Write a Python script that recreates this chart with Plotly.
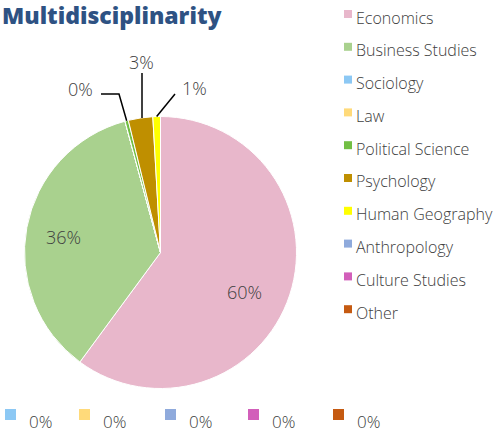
import math
import plotly.graph_objects as go

# ---- data ----
categories = ["Economics", "Business Studies", "Sociology", "Law", "Political Science",
              "Psychology", "Human Geography", "Anthropology", "Culture Studies", "Other"]
shares = [60.1, 35.7, 0.0, 0.0, 0.4, 2.9, 0.9, 0.0, 0.0, 0.0]
colors = ["#E8B7CB", "#A9D18E", "#8CC8F4", "#FFDA7A", "#72BF44",
          "#BF8F00", "#FFFF00", "#8FAADC", "#D25FBA", "#C55A11"]
title_text = "Multidisciplinarity"

# ---- layout constants (pixels) ----
W, H = 504, 433
CX, CY, R = 160.5, 252.5, 136.0
FONT = "Open Sans"
TXT = "#404040"


def px(x):
    return x / W


def py(y):
    return 1 - y / H


def pct(v):
    return f"{round(v)}%"


fig = go.Figure()
fig.add_trace(go.Pie(
    labels=categories, values=shares, sort=False, direction="clockwise", rotation=0,
    marker=dict(colors=colors, line=dict(color="white", width=1)),
    textinfo="none", hoverinfo="label+percent", showlegend=False,
    domain=dict(x=[px(CX - R), px(CX + R)], y=[py(CY + R), py(CY - R)]),
))

total = sum(shares)
cum = 0.0
mids = []
for v in shares:
    mids.append((cum + v / 2) / total * 2 * math.pi)
    cum += v


def pt(theta, rr):
    return CX + rr * math.sin(theta), CY - rr * math.cos(theta)


annotations = []
shapes = []


def add_text(x, y, text, size=16, xanchor="center"):
    annotations.append(dict(x=px(x), y=py(y), xref="paper", yref="paper", text=text,
                            showarrow=False, xanchor=xanchor, yanchor="middle",
                            font=dict(family=FONT, size=size, color=TXT, weight=300)))


def add_path(points):
    d = "M " + " L ".join(f"{px(x)},{py(y)}" for x, y in points)
    shapes.append(dict(type="path", path=d, xref="paper", yref="paper",
                       line=dict(color="black", width=1.5)))


# inside labels for big slices
for i in (0, 1):
    x, y = pt(mids[i] + (0.12 if i == 0 else -0.03), R * (0.68 if i == 0 else 0.72))
    add_text(x, y, pct(shares[i]), size=18)

# outside labels for small slices with leader lines
i_pol, i_psy, i_geo = 4, 5, 6
ex, ey = pt(mids[i_pol], R)
add_path([(ex, ey), (119, 94), (101, 94)])
add_text(80, 89, pct(shares[i_pol]), size=18)

ex, ey = pt(mids[i_psy], R)
add_path([(142, ey), (142, 73)])
add_text(141, 62, pct(shares[i_psy]), size=18)

ex, ey = pt(mids[i_geo], R)
add_path([(ex, ey), (175, 94)])
add_text(194, 88, pct(shares[i_geo]), size=18)

# right-hand legend
LEG_X, LEG_Y0, LEG_DY = 344, 17.5, 32.8
for i, (c, col) in enumerate(zip(categories, colors)):
    yc = LEG_Y0 + LEG_DY * i
    shapes.append(dict(type="rect", xref="paper", yref="paper",
                       x0=px(LEG_X), x1=px(LEG_X + 8), y0=py(yc - 7.5), y1=py(yc + 0.5),
                       fillcolor=col, line=dict(width=0)))
    add_text(LEG_X + 10, yc, c, size=16, xanchor="left")

# bottom row: zero-value labels with keys
BOTTOM_X = [5, 79, 165, 248, 333]
zero_idx = [i for i in (2, 3, 7, 8, 9)]
for bx, i in zip(BOTTOM_X, zero_idx):
    shapes.append(dict(type="rect", xref="paper", yref="paper",
                       x0=px(bx), x1=px(bx + 11), y0=py(420), y1=py(409),
                       fillcolor=colors[i], line=dict(width=0)))
    add_text(bx + 22, 421.5, pct(shares[i]), size=17, xanchor="left")

# title
annotations.append(dict(x=0, y=py(15), xref="paper", yref="paper", text=title_text,
                        showarrow=False, xanchor="left", yanchor="middle",
                        font=dict(family=FONT, size=23, color="#2E5283", weight=800)))

fig.update_layout(
    width=W, height=H, margin=dict(l=0, r=0, t=0, b=0),
    paper_bgcolor="white", plot_bgcolor="white",
    annotations=annotations, shapes=shapes, showlegend=False,
)
fig.write_html("out.html", config={"displayModeBar": False},
               post_script="document.body.style.margin='0';document.body.style.overflow='hidden';")
